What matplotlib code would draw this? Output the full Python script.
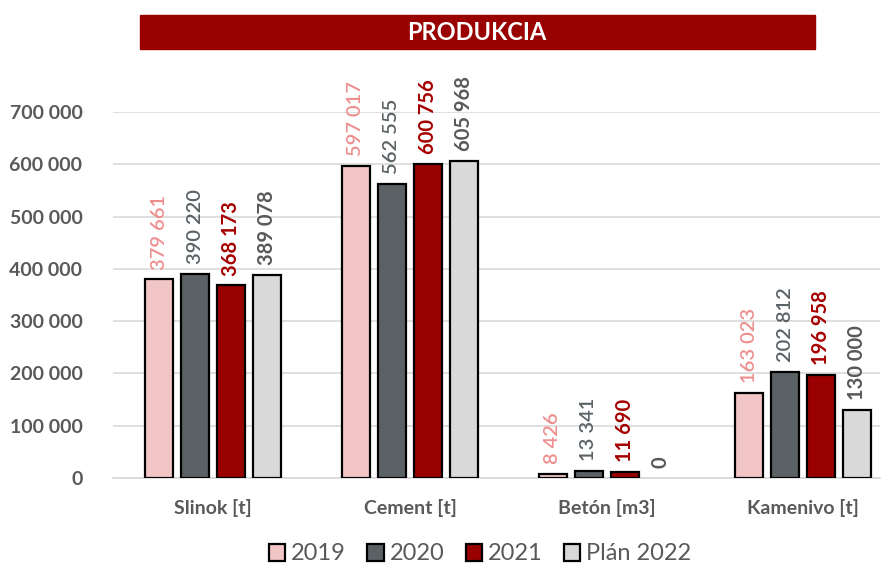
import numpy as np
import matplotlib.pyplot as plt
from matplotlib.patches import Rectangle

categories = ["Slinok [t]", "Cement [t]", "Betón [m3]", "Kamenivo [t]"]
series = ["2019", "2020", "2021", "Plán 2022"]
values = {
    "2019": [379661, 597017, 8426, 163023],
    "2020": [390220, 562555, 13341, 202812],
    "2021": [368173, 600756, 11690, 196958],
    "Plán 2022": [389078, 605968, 0, 130000],
}
bar_colors = ["#F2C6C6", "#5A6265", "#990000", "#D9D9D9"]
label_colors = ["#EE8F8F", "#5A6265", "#A50000", "#595959"]
label_bold = [False, False, True, True]
yticks = [0, 100000, 200000, 300000, 400000, 500000, 600000, 700000]


def fmt(v):
    return f"{v:,}".replace(",", " ")


plt.rcParams['font.family'] = ['Lato', 'DejaVu Sans']

fig = plt.figure(figsize=(8.93, 5.68), dpi=100)
ax = fig.add_axes([113 / 893, 1 - 478 / 568, (880 - 113) / 893, (478 - 112) / 568])

x = np.arange(len(categories))
step = 0.183
width = 0.142
for i, s in enumerate(series):
    pos = x + (i - 1.5) * step
    vals = values[s]
    ax.bar(pos, vals, width=width, color=bar_colors[i],
           edgecolor=["black" if v > 0 else "none" for v in vals],
           linewidth=1.6, label=s, zorder=3)
    for xp, v in zip(pos, vals):
        ax.annotate(fmt(v), (xp, v), xytext=(0, 7), textcoords="offset points",
                    rotation=90, ha="center", va="bottom", fontsize=14.5,
                    color=label_colors[i], fontweight="bold" if label_bold[i] else "semibold",
                    annotation_clip=False)

ax.set_ylim(0, 700000)
ax.set_xlim(-0.51, 3.39)
ax.set_yticks(yticks)
ax.set_yticklabels([fmt(t) for t in yticks], fontsize=14, fontweight="bold", color="#595959")
ax.set_xticks(x)
ax.set_xticklabels(categories, fontsize=14, fontweight="bold", color="#595959")
ax.tick_params(axis="y", length=0, pad=22)
ax.tick_params(axis="x", length=0, pad=15)
ax.grid(axis="y", color="#D9D9D9", linewidth=1.2, zorder=0)
for sp in ["top", "right", "left"]:
    ax.spines[sp].set_visible(False)
ax.spines["bottom"].set_color("#D9D9D9")
ax.spines["bottom"].set_linewidth(1.2)

leg = fig.legend(loc="center", bbox_to_anchor=(480 / 893, 1 - 554 / 568), ncol=4,
                 frameon=False, fontsize=17, handlelength=0.7, handleheight=0.7,
                 handletextpad=0.25, columnspacing=0.9)
for t in leg.get_texts():
    t.set_color("#595959")

# title banner
fig.patches.append(Rectangle((140 / 893, 1 - 49 / 568), (815 - 140) / 893, 34 / 568,
                             transform=fig.transFigure, color="#990000", zorder=0))
fig.text(477 / 893, 1 - 33 / 568, "PRODUKCIA", ha="center", va="center",
         color="white", fontsize=17, fontweight="bold")

fig.savefig("out.png", dpi=100)
